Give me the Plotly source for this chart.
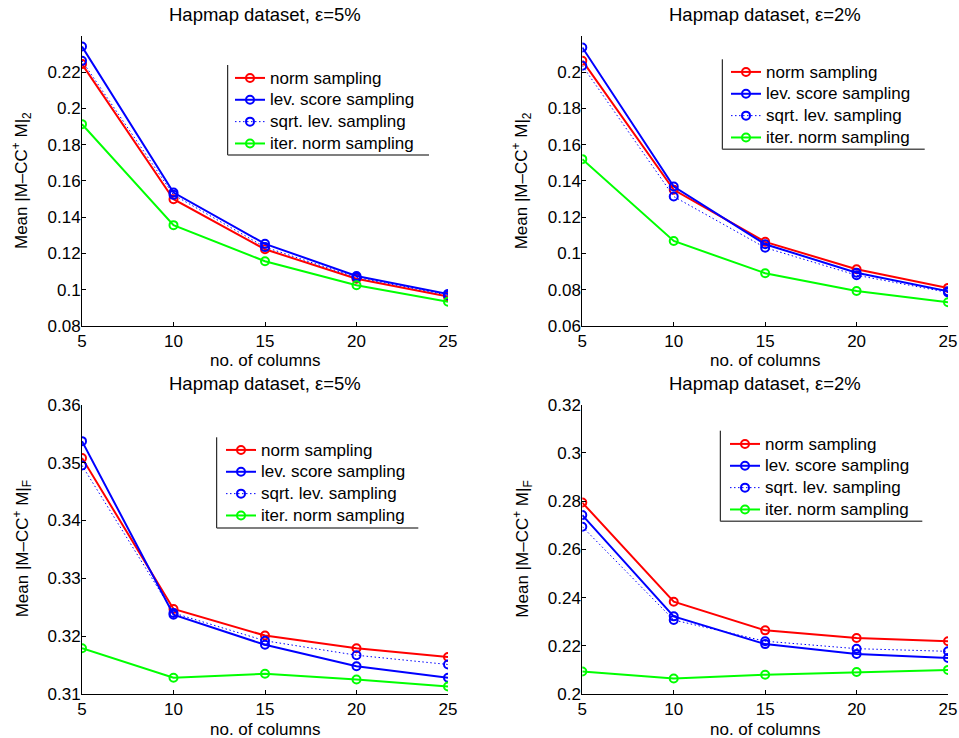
import plotly.graph_objects as go

# ---------------- data ----------------
columns = [5, 10, 15, 20, 25]
series_names = ["norm sampling", "lev. score sampling", "sqrt. lev. sampling", "iter. norm sampling"]

# top-left: spectral norm, eps=5%
tl_norm = [0.2244, 0.1499, 0.1223, 0.1061, 0.0962]
tl_lev = [0.2341, 0.1536, 0.1253, 0.1076, 0.0977]
tl_sqrt = [0.2262, 0.1523, 0.1235, 0.1068, 0.0970]
tl_iter = [0.1913, 0.1356, 0.1157, 0.1025, 0.0934]

# top-right: spectral norm, eps=2%
tr_norm = [0.2063, 0.1351, 0.1064, 0.0913, 0.0810]
tr_lev = [0.2136, 0.1369, 0.1051, 0.0894, 0.0791]
tr_sqrt = [0.2035, 0.1314, 0.1032, 0.0880, 0.0785]
tr_iter = [0.1520, 0.1069, 0.0891, 0.0793, 0.0731]

# bottom-left: Frobenius norm, eps=5%
bl_norm = [0.3508, 0.3247, 0.3201, 0.3179, 0.3164]
bl_lev = [0.3537, 0.3237, 0.3185, 0.3148, 0.3128]
bl_sqrt = [0.3495, 0.3240, 0.3192, 0.3167, 0.3151]
bl_iter = [0.3179, 0.3128, 0.3135, 0.3125, 0.3113]

# bottom-right: Frobenius norm, eps=2%
br_norm = [0.2794, 0.2383, 0.2264, 0.2232, 0.2219]
br_lev = [0.2742, 0.2322, 0.2207, 0.2166, 0.2149]
br_sqrt = [0.2694, 0.2307, 0.2219, 0.2188, 0.2177]
br_iter = [0.2093, 0.2064, 0.2080, 0.2091, 0.2100]

titles = ["Hapmap dataset, ε=5%", "Hapmap dataset, ε=2%", "Hapmap dataset, ε=5%", "Hapmap dataset, ε=2%"]
x_title = "no. of columns"
y_titles = ["Mean |M–CC<sup>+</sup> M|<sub>2</sub>", "Mean |M–CC<sup>+</sup> M|<sub>2</sub>",
            "Mean |M–CC<sup>+</sup> M|<sub>F</sub>", "Mean |M–CC<sup>+</sup> M|<sub>F</sub>"]

x_ticks = [5, 10, 15, 20, 25]
tl_yticks = [0.08, 0.10, 0.12, 0.14, 0.16, 0.18, 0.20, 0.22]
tl_ylabels = ["0.08", "0.1", "0.12", "0.14", "0.16", "0.18", "0.2", "0.22"]
tr_yticks = [0.06, 0.08, 0.10, 0.12, 0.14, 0.16, 0.18, 0.20]
tr_ylabels = ["0.06", "0.08", "0.1", "0.12", "0.14", "0.16", "0.18", "0.2"]
bl_yticks = [0.31, 0.32, 0.33, 0.34, 0.35, 0.36]
bl_ylabels = ["0.31", "0.32", "0.33", "0.34", "0.35", "0.36"]
br_yticks = [0.20, 0.22, 0.24, 0.26, 0.28, 0.30, 0.32]
br_ylabels = ["0.2", "0.22", "0.24", "0.26", "0.28", "0.3", "0.32"]

y_ranges = [[0.08, 0.2399], [0.06, 0.2199], [0.31, 0.36], [0.20, 0.32]]

# ---------------- layout helpers ----------------
W, H = 959, 738
FONT = "Liberation Sans, Arial, sans-serif"
FS = 17


def px(x):
    return x / W


def py(y):
    return 1 - y / H


panels = [
    dict(data=[tl_norm, tl_lev, tl_sqrt, tl_iter], yt=tl_yticks, yl=tl_ylabels,
         box=(82, 448, 36, 326), legend=(230, 62), lbox=(227.7, 429, 65, 155)),
    dict(data=[tr_norm, tr_lev, tr_sqrt, tr_iter], yt=tr_yticks, yl=tr_ylabels,
         box=(582.3, 948, 36, 326), legend=(726, 56), lbox=(722.3, 924.7, 59.3, 149.3)),
    dict(data=[bl_norm, bl_lev, bl_sqrt, bl_iter], yt=bl_yticks, yl=bl_ylabels,
         box=(82, 448, 404.7, 694), legend=(221, 434), lbox=(216.7, 418.3, 437.3, 528)),
    dict(data=[br_norm, br_lev, br_sqrt, br_iter], yt=br_yticks, yl=br_ylabels,
         box=(582.3, 948, 404.7, 694), legend=(725, 428), lbox=(720.3, 922.3, 430.7, 521.3)),
]

colors = ["#FF0000", "#0000FF", "#0000FF", "#00FF00"]
dashes = ["solid", "solid", "1.5px,2.5px", "solid"]
widths = [2, 2, 1, 2]

fig = go.Figure()
layout = dict(width=W, height=H, margin=dict(l=0, r=0, t=0, b=0, autoexpand=False),
              paper_bgcolor="white", plot_bgcolor="white",
              font=dict(family=FONT, size=FS, color="black"))
annotations = []
shapes = []

for i, p in enumerate(panels):
    n = "" if i == 0 else str(i + 1)
    xa, ya = "x" + n, "y" + n
    lg = "legend" + n
    x0, x1, y0, y1 = p["box"]
    for k in range(4):
        fig.add_trace(go.Scatter(
            x=columns, y=p["data"][k], mode="lines+markers",
            name='<span style="font-size:17px">' + series_names[k] + "</span>",
            xaxis=xa, yaxis=ya, legend=lg,
            line=dict(color=colors[k], width=widths[k], dash=dashes[k]),
            marker=dict(symbol="circle-open", size=8, color=colors[k],
                        line=dict(width=2, color=colors[k])),
        ))
    common = dict(showgrid=False, zeroline=False, showline=True, linecolor="black",
                  linewidth=1, ticks="inside", ticklen=4, tickcolor="black", automargin=False,
                  tickfont=dict(family=FONT, size=FS, color="black"), mirror=False)
    layout["xaxis" + n] = dict(domain=[px(x0), px(x1)], range=[5, 25], tickvals=x_ticks,
                               anchor=ya, **common)
    layout["yaxis" + n] = dict(domain=[py(y1), py(y0)], range=y_ranges[i], tickvals=p["yt"],
                               ticktext=p["yl"], anchor=xa, ticklabelstandoff=-3, **common)
    lx, ly = p["legend"]
    layout[lg] = dict(x=px(lx), y=py(ly), xanchor="left", yanchor="top",
                      bgcolor="rgba(0,0,0,0)", borderwidth=0, tracegroupgap=0,
                      font=dict(family=FONT, size=14.5, color="black"))
    bx0, bx1, by0, by1 = p["lbox"]
    shapes.append(dict(type="line", xref="paper", yref="paper", x0=px(bx0), x1=px(bx0),
                       y0=py(by0), y1=py(by1), line=dict(color="black", width=1)))
    shapes.append(dict(type="line", xref="paper", yref="paper", x0=px(bx0), x1=px(bx1),
                       y0=py(by1), y1=py(by1), line=dict(color="#555555", width=1.5)))
    cx = (x0 + x1) / 2
    annotations.append(dict(text=titles[i], x=px(cx), y=py(y0 - 21), xref="paper", yref="paper",
                            showarrow=False, xanchor="center", yanchor="middle",
                            font=dict(family=FONT, size=18.5, color="black")))
    annotations.append(dict(text=x_title, x=px(cx), y=py(y1 + 35), xref="paper", yref="paper",
                            showarrow=False, xanchor="center", yanchor="middle",
                            font=dict(family=FONT, size=FS, color="black")))
    annotations.append(dict(text=y_titles[i], x=px(x0 - 60), y=py((y0 + y1) / 2), xref="paper",
                            yref="paper", showarrow=False, xanchor="center", yanchor="middle",
                            textangle=-90, font=dict(family=FONT, size=FS, color="black")))

layout["annotations"] = annotations
layout["shapes"] = shapes
fig.update_layout(**layout)
fig.write_html("out.html", config={"displayModeBar": False},
               post_script="document.body.style.margin='0';document.body.style.padding='0';")
